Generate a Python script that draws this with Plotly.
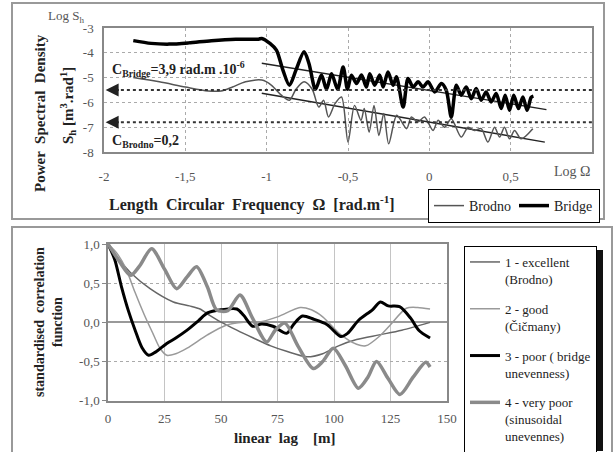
import plotly.graph_objects as go

# ---------------- Power spectral density (top panel) ----------------
bridge_x = [-1.82, -1.71, -1.60, -1.48, -1.34, -1.19, -1.05, -1.03, -0.98, -0.94, -0.90, -0.86,
            -0.82, -0.77, -0.74, -0.70, -0.663, -0.632, -0.601, -0.564, -0.53, -0.503, -0.479,
            -0.448, -0.417, -0.387, -0.366, -0.336, -0.305, -0.284, -0.254, -0.223, -0.202,
            -0.161, -0.131, -0.10, -0.069, -0.039, -0.008, 0.033, 0.074, 0.104, 0.135, 0.166,
            0.196, 0.227, 0.258, 0.288, 0.319, 0.349, 0.38, 0.411, 0.442, 0.466, 0.493, 0.519,
            0.548, 0.575, 0.601, 0.626, 0.64]
bridge_y = [-3.51, -3.62, -3.65, -3.60, -3.51, -3.45, -3.45, -3.42, -3.62, -3.89, -4.70, -5.31,
            -4.70, -3.96, -4.43, -5.47, -4.90, -5.47, -4.84, -5.47, -4.57, -5.47, -4.90,
            -5.24, -4.90, -5.38, -4.84, -5.31, -4.90, -5.38, -4.77, -5.31, -4.97,
            -6.19, -5.04, -5.38, -5.17, -5.38, -5.17, -5.58, -5.24, -5.51, -6.59, -5.31,
            -5.71, -5.38, -5.85, -5.44, -5.91, -5.58, -5.98, -5.64, -6.25, -5.71, -6.32, -5.71,
            -6.25, -5.78, -6.32, -5.80, -5.75]

brodno_x = [-1.82, -1.66, -1.50, -1.36, -1.28, -1.21, -1.13, -1.03, -0.97, -0.91, -0.86, -0.82,
            -0.77, -0.72, -0.68, -0.65, -0.62, -0.58, -0.54, -0.50, -0.46, -0.42, -0.40, -0.37,
            -0.34, -0.31, -0.28, -0.25, -0.20, -0.14, -0.11, -0.07, -0.03, 0.023, 0.054, 0.094,
            0.135, 0.196, 0.238, 0.278, 0.319, 0.36, 0.401, 0.432, 0.462, 0.493, 0.524, 0.564,
            0.636]
brodno_y = [-5.00, -5.17, -5.38, -5.54, -5.54, -5.38, -5.17, -5.10, -5.31, -5.71, -5.91, -5.47,
            -5.17, -5.47, -6.19, -5.91, -6.59, -6.05, -5.78, -7.60, -6.12, -6.72, -6.25, -7.20,
            -6.12, -7.33, -6.45, -7.67, -6.52, -7.06, -6.59, -6.79, -6.59, -7.13, -6.72, -7.00,
            -6.66, -7.40, -7.00, -7.13, -7.06, -7.60, -7.00, -7.40, -7.00, -7.47, -7.13, -7.47,
            -7.06]

# linear trends of both spectra
bridge_trend_x = [-1.03, 0.72]
bridge_trend_y = [-4.42, -6.29]
brodno_trend_x = [-1.03, 0.71]
brodno_trend_y = [-5.63, -7.60]

# reference levels marked with arrows on the left axis
level_lines = [-5.5, -6.8]

psd_xticks = [-2, -1.5, -1, -0.5, 0, 0.5]
psd_xtext = ["-2", "-1,5", "-1", "-0,5", "0", "0,5"]
psd_yticks = [-3, -4, -5, -6, -7, -8]
psd_ytext = ["-3", "-4", "-5", "-6", "-7", "-8"]

# ---------------- Correlation functions (bottom panel) ----------------
s1_x = [0, 5, 10.5, 18.6, 28.9, 36, 40.7, 45, 49.6, 57, 64.3, 72, 79, 88, 95, 102, 110, 120, 130, 142.5]
s1_y = [1.0, 0.8, 0.62, 0.43, 0.26, 0.21, 0.17, 0.09, 0.01, -0.10, -0.20, -0.30, -0.37, -0.44, -0.40,
        -0.30, -0.22, -0.16, -0.10, 0.0]

s2_x = [0, 4, 8, 12, 16, 20, 23, 26, 30, 35, 44, 52, 60, 66, 75, 85, 90, 95, 102.7, 110, 114, 120,
        125, 132, 137, 142.5]
s2_y = [1.0, 0.88, 0.68, 0.38, 0.10, -0.15, -0.33, -0.42, -0.40, -0.33, -0.16, -0.04, 0.0, 0.0, 0.07,
        0.19, 0.16, 0.07, -0.15, -0.28, -0.30, -0.18, -0.03, 0.18, 0.19, 0.17]

s3_x = [0, 3, 6, 9, 12, 15, 18, 21, 26, 30, 35, 40, 44, 50, 57, 60, 64, 68, 73, 79, 82, 86, 91, 97,
        103, 106, 111, 117, 120.5, 124, 129, 134, 137.5, 142.5]
s3_y = [1.0, 0.80, 0.45, 0.15, -0.10, -0.32, -0.42, -0.38, -0.27, -0.20, -0.10, 0.02, 0.12, 0.16,
        0.17, 0.09, -0.05, -0.02, -0.05, -0.14, -0.03, 0.08, 0.04, -0.03, -0.18, -0.14, 0.03, 0.16,
        0.26, 0.21, 0.20, 0.05, -0.10, -0.20]

s4_x = [0, 5, 10, 14, 19.3, 25, 30.4, 35, 39.2, 44, 48, 53, 58.4, 64, 70.2, 74, 78.3, 84, 90.9, 95,
        99.7, 105, 110.8, 115, 118.8, 124, 129.2, 135, 140.6, 142.5]
s4_y = [1.0, 0.78, 0.60, 0.72, 0.94, 0.68, 0.43, 0.58, 0.71, 0.45, 0.16, 0.15, 0.35, 0.05, -0.25,
        -0.10, -0.01, -0.30, -0.59, -0.50, -0.33, -0.55, -0.84, -0.70, -0.50, -0.72, -0.92, -0.70,
        -0.51, -0.57]

corr_xticks = [0, 25, 50, 75, 100, 125, 150]
corr_yticks = [1.0, 0.5, 0.0, -0.5, -1.0]
corr_ytext = ["1,0", "0,5", "0,0", "-0,5", "-1,0"]

corr_names = ["1 - excellent<br>(Brodno)", "2 - good<br>(Čičmany)",
              "3 - poor ( bridge<br>unevenness)", "4 - very poor<br>(sinusoidal<br>unevennes)"]

# ---------------- figure ----------------
W, H = 613, 452
SERIF = "Liberation Serif"


def px(x):
    return x / W


def py(y):
    return 1 - y / H


fig = go.Figure()

# top panel traces
fig.add_trace(go.Scatter(x=brodno_trend_x, y=brodno_trend_y, mode="lines",
                         line=dict(color="#222", width=1.4), showlegend=False,
                         xaxis="x", yaxis="y", hoverinfo="skip"))
fig.add_trace(go.Scatter(x=bridge_trend_x, y=bridge_trend_y, mode="lines",
                         line=dict(color="#222", width=1.4), showlegend=False,
                         xaxis="x", yaxis="y", hoverinfo="skip"))
fig.add_trace(go.Scatter(x=brodno_x, y=brodno_y, mode="lines", name="Brodno",
                         line=dict(color="#555", width=1.5, shape="spline", smoothing=0.8),
                         xaxis="x", yaxis="y", legend="legend"))
fig.add_trace(go.Scatter(x=bridge_x, y=bridge_y, mode="lines", name="Bridge",
                         line=dict(color="#000", width=3.5, shape="spline", smoothing=0.8),
                         xaxis="x", yaxis="y", legend="legend"))

# bottom panel traces
corr_series = [(s1_x, s1_y, "#666", 1.5), (s2_x, s2_y, "#9a9a9a", 1.5),
               (s3_x, s3_y, "#000", 3.0), (s4_x, s4_y, "#8a8a8a", 3.5)]
for i, (xs, ys, col, w) in enumerate(corr_series):
    fig.add_trace(go.Scatter(x=xs, y=ys, mode="lines", name=corr_names[i],
                             line=dict(color=col, width=w, shape="spline", smoothing=0.8),
                             xaxis="x2", yaxis="y2", legend="legend2", legendgroup=f"g{i}"))

tickfont = dict(family=SERIF, size=13, color="#555")

fig.update_layout(
    width=W, height=H, autosize=False,
    margin=dict(l=0, r=0, t=0, b=0, autoexpand=False),
    paper_bgcolor="white", plot_bgcolor="white",
    font=dict(family=SERIF, color="#222"),
    xaxis=dict(domain=[px(104), px(592)], range=[-2, 1], anchor="y",
               tickvals=psd_xticks, ticktext=psd_xtext, tickfont=tickfont,
               showgrid=True, gridcolor="#aaa", griddash="dot", gridwidth=1,
               zeroline=False, showline=True, linecolor="#888", linewidth=1.5, mirror=True,
               ticks="", ticklabelstandoff=12),
    yaxis=dict(domain=[py(152), py(28)], range=[-8, -3], anchor="x",
               tickvals=psd_yticks, ticktext=psd_ytext, tickfont=tickfont,
               showgrid=True, gridcolor="#aaa", griddash="dot", gridwidth=1,
               zeroline=False, showline=True, linecolor="#888", linewidth=1.5, mirror=True,
               ticks="", ticklabelstandoff=6),
    xaxis2=dict(domain=[px(108), px(447)], range=[0, 150], anchor="y2",
                tickvals=corr_xticks, tickfont=tickfont,
                showgrid=True, gridcolor="#c4c4c4", gridwidth=1,
                zeroline=False, showline=True, linecolor="#888", linewidth=1.5, mirror=True,
                ticks="", ticklabelstandoff=5),
    yaxis2=dict(domain=[py(400.7), py(244)], range=[-1, 1], anchor="x2",
                tickvals=corr_yticks, ticktext=corr_ytext, tickfont=tickfont,
                showgrid=True, gridcolor="#aaa", griddash="dot", gridwidth=1,
                zeroline=True, zerolinecolor="#999", zerolinewidth=1.5,
                showline=True, linecolor="#888", linewidth=1.5, mirror=True,
                ticks="outside", ticklen=4, tickcolor="#888"),
    legend=dict(orientation="h", x=px(428), y=py(189), xanchor="left", yanchor="top",
                bgcolor="white", bordercolor="#000", borderwidth=1,
                font=dict(family=SERIF, size=14, color="#222"),
                itemwidth=30, tracegroupgap=0, entrywidth=40, entrywidthmode="pixels"),
    legend2=dict(orientation="v", x=px(464), y=py(246), xanchor="left", yanchor="top",
                 bgcolor="white", bordercolor="#000", borderwidth=1,
                 font=dict(family=SERIF, size=13, color="#222"),
                 itemwidth=30, tracegroupgap=10, valign="top"),
    showlegend=True,
)

shapes = []
# panel frames
shapes.append(dict(type="rect", xref="paper", yref="paper", x0=px(12), x1=px(604),
                   y0=py(219), y1=py(3), line=dict(color="#999", width=2), layer="below"))
shapes.append(dict(type="rect", xref="paper", yref="paper", x0=px(12), x1=px(612),
                   y0=py(470), y1=py(227), line=dict(color="#999", width=2), layer="below"))
# legend shadows
shapes.append(dict(type="rect", xref="paper", yref="paper", x0=px(432), x1=px(594),
                   y0=py(216), y1=py(193), fillcolor="#111", line=dict(width=0), layer="above"))
shapes.append(dict(type="rect", xref="paper", yref="paper", x0=px(468), x1=px(603),
                   y0=py(451), y1=py(250), fillcolor="#111", line=dict(width=0), layer="above"))
# dotted reference levels
for lv in level_lines:
    shapes.append(dict(type="line", xref="x", yref="y", x0=-1.97, x1=1, y0=lv, y1=lv,
                       line=dict(color="#333", width=2, dash="dot"), layer="above"))
fig.update_layout(shapes=shapes)

ann = []
for lv in level_lines:
    ann.append(dict(x=-1.99, y=lv, ax=-1.9, ay=lv, xref="x", yref="y", axref="x", ayref="y",
                    text="", showarrow=True, arrowhead=2, arrowsize=1.3, arrowwidth=2,
                    arrowcolor="#222"))


def label(x, y, text, size, color="#222", angle=0, xanchor="center"):
    return dict(x=px(x), y=py(y), xref="paper", yref="paper", text=text, textangle=angle,
                xanchor=xanchor, yanchor="middle", showarrow=False,
                font=dict(family=SERIF, size=size, color=color))


ann += [
    label(66, 16, "Log S<sub>h</sub>", 13, "#555"),
    label(40, 113, "<b>Power  Spectral  Density</b>", 15, angle=-90),
    label(68, 106, "<b>S<sub>h</sub> [m<sup>3</sup>.rad<sup>1</sup>]</b>", 15, angle=-90),
    label(252, 203, "<b>Length  Circular  Frequency  Ω  [rad.m<sup>-1</sup>]</b>", 16),
    label(572, 172, "Log Ω", 14, "#555"),
    label(110, 69, "<b>C<sub>Bridge</sub>=3,9 rad.m .10<sup>-6</sup></b>", 14, xanchor="left"),
    label(110, 141, "<b>C<sub>Brodno</sub>=0,2</b>", 14, xanchor="left"),
    label(48, 322, "<b>standardised  correlation<br>function</b>", 14, angle=-90),
    label(284, 438, "<b>linear  lag    [m]</b>", 15),
]
fig.update_layout(annotations=ann)

fig.write_html("out.html")
